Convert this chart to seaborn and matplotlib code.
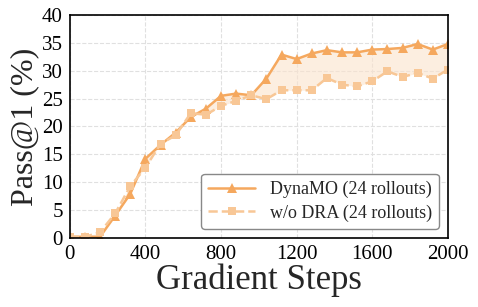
import numpy as np
import pandas as pd
import matplotlib
matplotlib.use("Agg")
import matplotlib.pyplot as plt
import seaborn as sns

# ── Data ─────────────────────────────────────────────
steps = list(range(0, 2001, 80))
dynamo = [0.2, 0.2, 0.2, 4.0, 7.9, 14.2, 16.7, 18.9, 21.7, 23.2, 25.5, 25.9, 25.6,
          28.6, 32.9, 32.1, 33.1, 33.7, 33.3, 33.3, 33.8, 33.9, 34.1, 34.8, 33.8, 34.8]
wo_dra = [0.2, 0.2, 1.0, 4.4, 9.3, 12.6, 16.9, 18.4, 22.4, 22.1, 23.7, 24.6, 25.6,
          24.9, 26.5, 26.5, 26.5, 28.7, 27.5, 27.2, 28.1, 29.9, 28.9, 29.6, 28.6, 30.2]

df = pd.DataFrame({"step": steps, "DynaMO": dynamo, "w/o DRA": wo_dra})

# ── Style ─────────────────────────────────────────────
sns.set_theme(style="white")
plt.rcParams["font.family"] = ["Liberation Serif", "DejaVu Serif"]

fig = plt.figure(figsize=(4.78, 3.07), dpi=100)
ax = fig.add_axes([0.146, 0.225, 0.791, 0.726])

c_main = "#F5A85E"
c_abl = "#F8C796"

ax.fill_between(df["step"], df["w/o DRA"], df["DynaMO"], color="#FBE3CC", alpha=0.6, lw=0)
sns.lineplot(data=df, x="step", y="DynaMO", ax=ax, color=c_main, lw=1.8,
             marker="^", markersize=7, markeredgewidth=0, label="DynaMO (24 rollouts)")
sns.lineplot(data=df, x="step", y="w/o DRA", ax=ax, color=c_abl, lw=1.8, ls="--",
             marker="s", markersize=5.5, markeredgewidth=0, label="w/o DRA (24 rollouts)")

ax.set_xlim(0, 2000)
ax.set_ylim(0, 40)
ax.set_xticks(range(0, 2001, 400))
ax.set_yticks(range(0, 41, 5))
ax.tick_params(labelsize=15, length=3, width=1, direction="out", colors="black", pad=2)
ax.grid(True, ls="--", color="#e0e0e0", lw=0.8)
for s in ax.spines.values():
    s.set_color("black")
    s.set_linewidth(1.2)

ax.set_xlabel("Gradient Steps", fontsize=25, labelpad=0)
ax.set_ylabel("Pass@1 (%)", fontsize=23, labelpad=2)

leg = ax.legend(loc="lower right", fontsize=13, frameon=True, fancybox=True,
                edgecolor="#888888", framealpha=1, handlelength=2.6, borderpad=0.4,
                labelspacing=0.35)

fig.savefig("out.png", dpi=100)
